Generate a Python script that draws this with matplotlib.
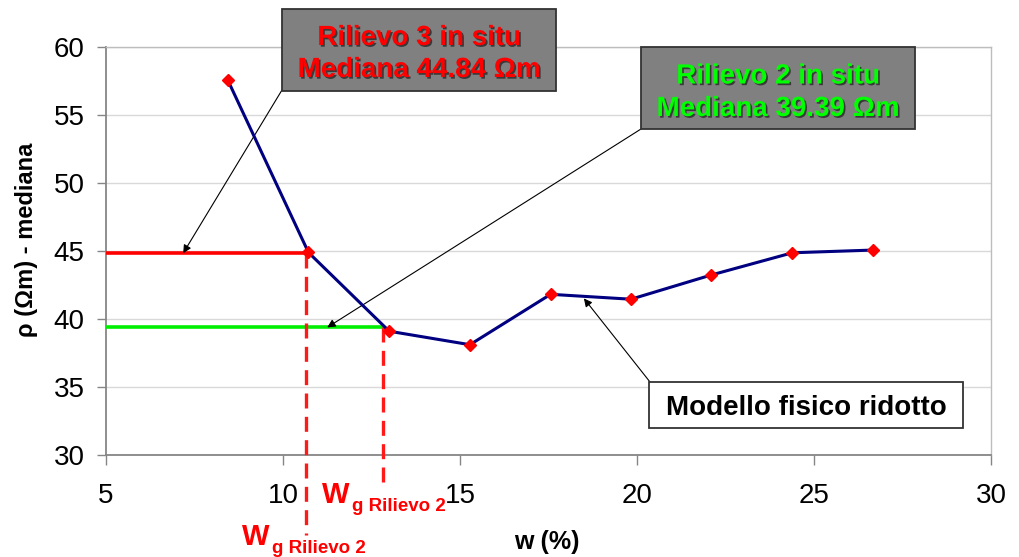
import matplotlib
matplotlib.use("Agg")
import matplotlib.pyplot as plt
from matplotlib.patches import Rectangle
import matplotlib.patheffects as pe

plt.rcParams['font.family'] = ['Liberation Sans', 'DejaVu Sans']

# Median resistivity of the reduced physical model against water content
w_model = [8.44, 10.72, 13.0, 15.28, 17.56, 19.83, 22.1, 24.39, 26.68]
rho_model = [57.55, 44.89, 39.11, 38.12, 41.82, 41.46, 43.24, 44.87, 45.07]

# In-situ survey medians and the water content
rho_rilievo3 = 44.84
rho_rilievo2 = 39.39
wg_rilievo3 = 10.66
wg_rilievo2 = 12.82

x_ticks = [5, 10, 15, 20, 25, 30]
y_ticks = [30, 35, 40, 45, 50, 55, 60]

W, H = 1019, 557
fig = plt.figure(figsize=(W / 100, H / 100), dpi=100)
ax = fig.add_axes([106 / W, 1 - 455.3 / H, 885 / W, 408.6 / H])


def fx(x):
    return x / W


def fy(y):
    return 1 - y / H


ax.set_xlim(x_ticks[0], x_ticks[-1])
ax.set_ylim(y_ticks[0], y_ticks[-1])
ax.set_xticks(x_ticks)
ax.set_yticks(y_ticks)
ax.yaxis.grid(True, color='#d9d9d9', lw=1)
ax.set_axisbelow(True)
for s in ('left', 'bottom'):
    ax.spines[s].set_color('#868686')
    ax.spines[s].set_linewidth(1.3)
for s in ('top', 'right'):
    ax.spines[s].set_color('#bdbdbd')
    ax.spines[s].set_linewidth(1.0)
ax.tick_params(axis='x', length=7, width=1, color='#868686', pad=13,
               labelsize=20)
ax.tick_params(axis='y', length=6.5, width=1, color='#868686', pad=9,
               labelsize=20)

# Survey levels and the corresponding water contents
ymin, ymax = ax.get_ylim()
span = ymax - ymin
ax.plot([x_ticks[0], wg_rilievo3], [rho_rilievo3, rho_rilievo3],
        color='#ff0000', lw=2.6, solid_capstyle='butt', zorder=3)
ax.plot([x_ticks[0], wg_rilievo2], [rho_rilievo2, rho_rilievo2],
        color='#00ee00', lw=2.6, solid_capstyle='butt', zorder=3)
ax.plot([wg_rilievo3, wg_rilievo3], [rho_rilievo3, ymin - 0.195 * span],
        color='#ff1a1a', lw=2.4, dashes=(4.5, 2.5), clip_on=False, zorder=3)
ax.plot([wg_rilievo2, wg_rilievo2], [rho_rilievo2, ymin - 0.085 * span],
        color='#ff1a1a', lw=2.4, dashes=(4.5, 2.5), clip_on=False, zorder=3)

# Model curve
ax.plot(w_model, rho_model, color='#000080', lw=2.2, marker='D',
        markersize=6, markerfacecolor='#ff0000', markeredgecolor='#ff0000',
        zorder=4)

# Callout arrows
arrow = dict(arrowstyle='-|>', color='black', lw=0.8, mutation_scale=12,
             shrinkA=0, shrinkB=0)
ax.annotate('', xy=(7.18, rho_rilievo3), xycoords='data',
            xytext=(282, H - 90), textcoords='figure pixels',
            arrowprops=arrow, annotation_clip=False)
ax.annotate('', xy=(11.25, rho_rilievo2), xycoords='data',
            xytext=(641, H - 129), textcoords='figure pixels',
            arrowprops=arrow, annotation_clip=False)
ax.annotate('', xy=(18.5, 41.52), xycoords='data',
            xytext=(650, H - 382), textcoords='figure pixels',
            arrowprops=arrow, annotation_clip=False)

shadow = [pe.withSimplePatchShadow(offset=(1.2, -1.2), shadow_rgbFace='black',
                                   alpha=0.55)]


def callout(x0, y0, x1, y1, lines, baselines, color, face, size):
    fig.add_artist(Rectangle((fx(x0), fy(y1)), (x1 - x0) / W, (y1 - y0) / H,
                             transform=fig.transFigure, facecolor=face,
                             edgecolor='#333333', lw=1.3, zorder=5))
    for txt, yb in zip(lines, baselines):
        t = fig.text(fx((x0 + x1) / 2), fy(yb), txt, ha='center',
                     va='baseline', color=color, fontsize=size,
                     fontweight='bold', zorder=6)
        if face != 'white':
            t.set_path_effects(shadow)


callout(282, 9, 556, 91, ['Rilievo 3 in situ', 'Mediana 44.84 Ωm'],
        [45, 77], '#ff0000', '#808080', 20)
callout(641, 47, 915, 129, ['Rilievo 2 in situ', 'Mediana 39.39 Ωm'],
        [83.5, 116], '#00ff00', '#808080', 20)
callout(649, 382, 963, 428, ['Modello fisico ridotto'], [415], 'black',
        'white', 20)

# Water-content labels
for xw, yb in ((242, 545), (322, 503)):
    fig.text(fx(xw), fy(yb), 'W', color='#ff0000', fontsize=21,
             fontweight='bold', va='baseline', ha='left')
    fig.text(fx(xw + 30), fy(yb + 8), 'g Rilievo 2', color='#ff0000',
             fontsize=13.5, fontweight='bold', va='baseline', ha='left')

# Axis titles
fig.text(fx(547), fy(549), 'w (%)', ha='center', va='baseline',
         fontsize=18, fontweight='bold')
fig.text(fx(27), fy(240), 'ρ (Ωm) - mediana', ha='center', va='center',
         rotation=90, fontsize=17, fontweight='bold')

fig.savefig('out.png', dpi=100)
